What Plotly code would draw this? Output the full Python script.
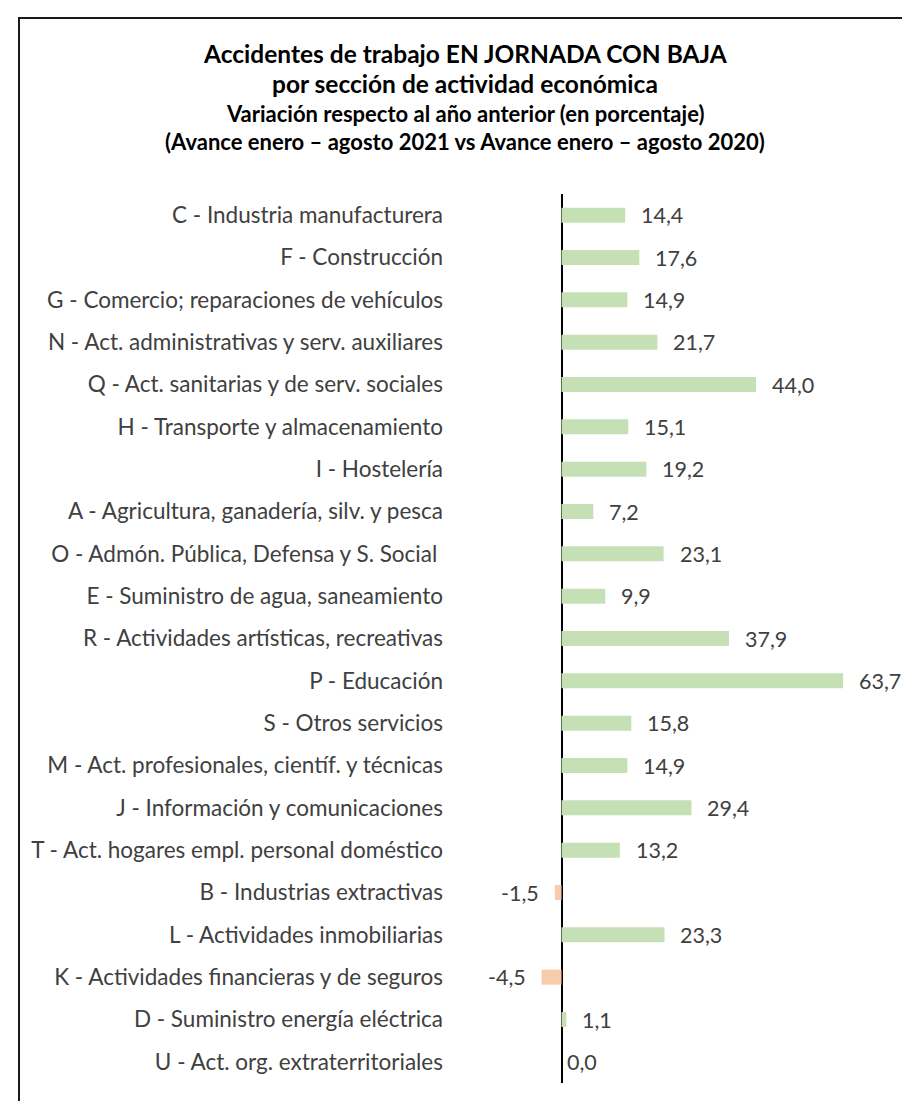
import plotly.graph_objects as go

categories = [
    "C - Industria manufacturera",
    "F - Construcción",
    "G - Comercio; reparaciones de vehículos",
    "N - Act. administrativas y serv. auxiliares",
    "Q - Act. sanitarias y de serv. sociales",
    "H - Transporte y almacenamiento",
    "I - Hostelería",
    "A - Agricultura, ganadería, silv. y pesca",
    "O - Admón. Pública, Defensa y S. Social\u00a0",
    "E - Suministro de agua, saneamiento",
    "R - Actividades artísticas, recreativas",
    "P - Educación",
    "S - Otros servicios",
    "M - Act. profesionales, científ. y técnicas",
    "J - Información y comunicaciones",
    "T - Act. hogares empl. personal doméstico",
    "B - Industrias extractivas",
    "L - Actividades inmobiliarias",
    "K - Actividades financieras y de seguros",
    "D - Suministro energía eléctrica",
    "U - Act. org. extraterritoriales",
]
values = [14.4, 17.6, 14.9, 21.7, 44.0, 15.1, 19.2, 7.2, 23.1, 9.9, 37.9,
          63.7, 15.8, 14.9, 29.4, 13.2, -1.5, 23.3, -4.5, 1.1, 0.0]

title_lines = [
    "Accidentes de trabajo EN JORNADA CON BAJA",
    "por sección de actividad económica",
    "Variación respecto al año anterior (en porcentaje)",
    "(Avance enero – agosto 2021 vs Avance enero – agosto 2020)",
]

W, H = 910, 1101
ML, MR, MT, MB = 445, 0, 186, 26
PW, PH = W - ML - MR, H - MT - MB
PX_PER_UNIT = 4.42
ZERO_PX = 553.5

FONT = "Lato"
GREEN = "#C5E0B4"
ORANGE = "#F8CBAD"
TXT = "#404040"


def px_to_paper_x(px):
    return (px - ML) / PW


def py_to_paper_y(py):
    return (H - MB - py) / PH


colors = [GREEN if v >= 0 else ORANGE for v in values]

fig = go.Figure()
fig.add_trace(go.Bar(
    x=values, y=categories, orientation="h",
    marker=dict(color=colors, line=dict(width=0)),
    width=0.355, hoverinfo="skip",
))

x_min = (ML - ZERO_PX) / PX_PER_UNIT
x_max = (W - MR - ZERO_PX) / PX_PER_UNIT

annotations = []
for c, v in zip(categories, values):
    txt = f"{abs(v):.1f}".replace(".", ",")
    if v < 0:
        txt = "-" + txt
        annotations.append(dict(x=v, y=c, xref="x", yref="y", text=txt,
                                showarrow=False, xanchor="right", xshift=-14,
                                font=dict(family=FONT, size=21.5, color=TXT)))
    else:
        annotations.append(dict(x=v, y=c, xref="x", yref="y", text=txt,
                                showarrow=False, xanchor="left",
                                xshift=14 if v > 0 else 3,
                                font=dict(family=FONT, size=21.5, color=TXT)))

title_y = [45, 76, 105, 133]
title_sizes = [24.5, 24.5, 22, 22]
for t, yy, s in zip(title_lines, title_y, title_sizes):
    annotations.append(dict(x=px_to_paper_x(W / 2 + 2), y=py_to_paper_y(yy),
                            xref="paper", yref="paper", text=f"<b>{t}</b>",
                            showarrow=False, xanchor="center", yanchor="middle",
                            font=dict(family=FONT, size=s, color="#000000")))

fig.update_layout(
    width=W, height=H,
    margin=dict(l=ML, r=MR, t=MT, b=MB, pad=0),
    paper_bgcolor="white", plot_bgcolor="white",
    showlegend=False,
    annotations=annotations,
    xaxis=dict(range=[x_min, x_max], showgrid=False, showticklabels=False,
               zeroline=True, zerolinecolor="#000000", zerolinewidth=2,
               showline=False, ticks=""),
    yaxis=dict(autorange="reversed", showgrid=False, zeroline=False,
               showline=False, ticks="", ticklabelstandoff=9,
               tickfont=dict(family=FONT, size=22.5, color=TXT)),
    shapes=[dict(type="rect", xref="paper", yref="paper",
                 x0=px_to_paper_x(11), x1=px_to_paper_x(W + 5),
                 y0=py_to_paper_y(H + 5), y1=py_to_paper_y(10),
                 line=dict(color="#1a1a1a", width=2), fillcolor="rgba(0,0,0,0)")],
)

fig.write_html("out.html")
